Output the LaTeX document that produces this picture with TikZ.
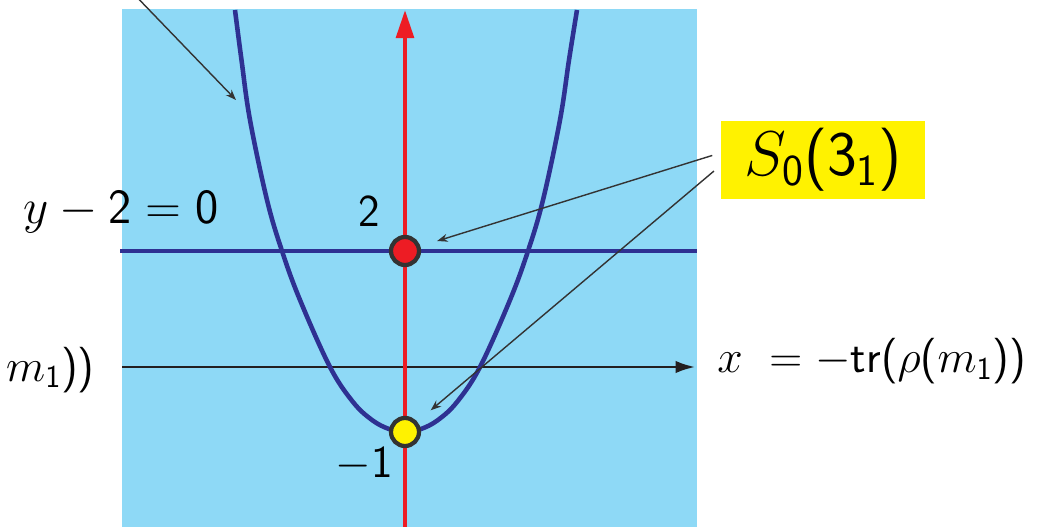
\RequirePackage{fix-cm}
\documentclass[tikz,border=0pt]{standalone}
\usepackage{amsmath}
\usetikzlibrary{arrows.meta}
\DeclareSymbolFont{sfdigits}{TU}{lmss}{m}{n}
\DeclareMathSymbol{0}{\mathalpha}{sfdigits}{`0}
\DeclareMathSymbol{1}{\mathalpha}{sfdigits}{`1}
\DeclareMathSymbol{2}{\mathalpha}{sfdigits}{`2}
\DeclareMathSymbol{3}{\mathalpha}{sfdigits}{`3}
\DeclareMathSymbol{(}{\mathopen}{sfdigits}{`(}
\DeclareMathSymbol{)}{\mathclose}{sfdigits}{`)}
\DeclareMathSymbol{=}{\mathrel}{sfdigits}{`=}
\DeclareSymbolFontAlphabet{\mathrm}{sfdigits}
\definecolor{sky}{RGB}{142,217,246}
\definecolor{navy}{RGB}{46,49,146}
\definecolor{axisred}{RGB}{237,28,36}
\definecolor{axisblack}{RGB}{35,31,32}
\definecolor{dotrim}{RGB}{51,51,51}
\definecolor{tagyellow}{RGB}{255,242,0}
\definecolor{pointergray}{RGB}{51,51,51}

\begin{document}
\begin{tikzpicture}[x=0.02cm,y=-0.02cm,
    every node/.style={inner sep=0pt},
    eqlabel/.style={font=\fontsize{26}{30}\selectfont},
    ticklabel/.style={font=\fontsize{26}{30}\selectfont},
    tag/.style={fill=tagyellow,minimum width=4.08cm,minimum height=1.56cm,font=\fontsize{36}{40}\selectfont},
    dot/.style={circle,draw=dotrim,line width=2.4pt,minimum size=0.56cm},
    branch/.style={draw=navy,line width=2.6pt},
    pointer/.style={-{Stealth[length=6pt,width=4.5pt]},draw=pointergray,line width=0.8pt},
    haxis/.style={-{Latex[length=11pt,width=7pt]},draw=axisblack,line width=1.2pt},
    vaxis/.style={-{Triangle[length=16pt,width=10pt]},draw=axisred,line width=2.4pt}
]
\useasboundingbox (0,0) rectangle (1046,527);
\fill[sky] (122,9) rectangle (697,527);
\coordinate (xstart) at (122,367);
\coordinate (xend) at (695,367);
\coordinate (hstart) at (120,251);
\coordinate (hend) at (697,251);
\coordinate (ystart) at (405,527);
\coordinate (yend) at (405,10);
\coordinate (armtail) at (130,-10);
\coordinate (armtip) at (236,100);
\draw[haxis] (xstart) -- (xend);
\draw[branch] (hstart) -- (hend);
\draw[branch] plot[smooth,tension=0.6] coordinates {(235,10) (241.5,60) (250,120) (267,200) (282,251) (300,300) (330,367) (353,402) (372,420) (389,429) (405,432) (421,429) (438,420) (457,402) (480,367) (510,300) (528,251) (543,200) (560,120) (569,60) (577,10)};
\draw[vaxis] (ystart) -- (yend);
\node[dot,fill=axisred] (two) at (405,251) {};
\node[dot,fill=tagyellow] (minusone) at (405,432) {};
\node[ticklabel,font=\fontsize{28}{32}\selectfont,anchor=base] (hlbl) at (121,224) {$y-2=0$};
\node[ticklabel,anchor=base] (twolbl) at (369,227) {$2$};
\node[ticklabel,anchor=base] (minuslbl) at (364,477) {$-1$};
\node[eqlabel,anchor=base west] (xlbl) at (717,373) {$x\ = -\mathrm{tr}(\rho(m_1))$};
\node[eqlabel,anchor=base east] (cutlbl) at (95,381) {$m_1))$};
\node[tag] (tagbox) at (823,160) {$S_0(3_1)$};
\draw[pointer] (armtail) -- (armtip);
\draw[pointer,shorten <=5pt,shorten >=10pt] (tagbox.176) -- (two);
\draw[pointer,shorten <=5pt,shorten >=10pt] (tagbox.183) -- (minusone);
\end{tikzpicture}
\end{document}
